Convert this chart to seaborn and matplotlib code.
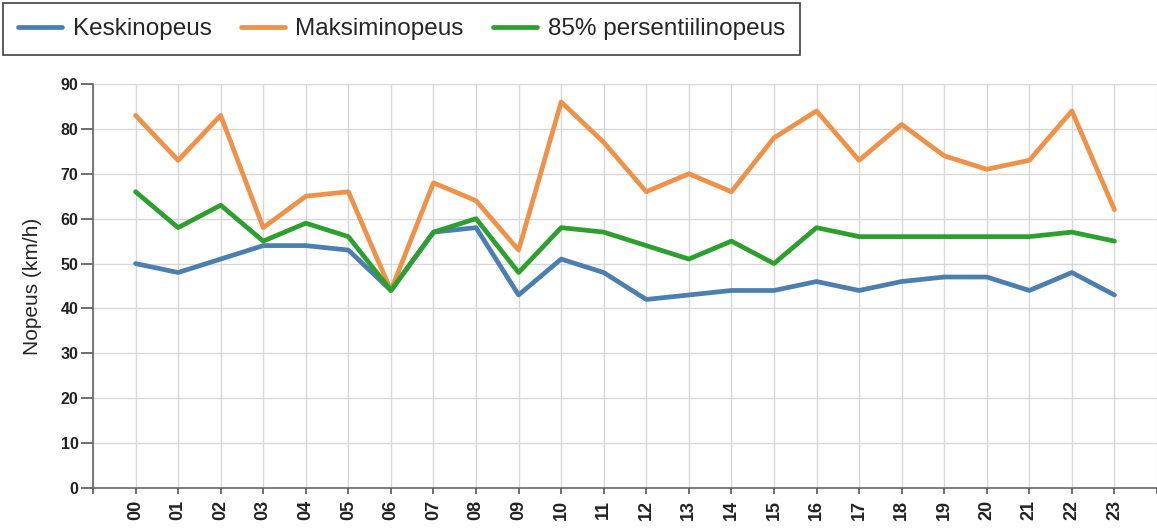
import matplotlib
matplotlib.use('Agg')
import matplotlib.pyplot as plt
import seaborn as sns
import pandas as pd

# tunnit ja nopeudet
tunnit = ['00', '01', '02', '03', '04', '05', '06', '07', '08', '09', '10', '11',
          '12', '13', '14', '15', '16', '17', '18', '19', '20', '21', '22', '23']
keski = [50, 48, 51, 54, 54, 53, 44, 57, 58, 43, 51, 48,
         42, 43, 44, 44, 46, 44, 46, 47, 47, 44, 48, 43]
maksimi = [83, 73, 83, 58, 65, 66, 44, 68, 64, 53, 86, 77,
           66, 70, 66, 78, 84, 73, 81, 74, 71, 73, 84, 62]
persentiili = [66, 58, 63, 55, 59, 56, 44, 57, 60, 48, 58, 57,
               54, 51, 55, 50, 58, 56, 56, 56, 56, 56, 57, 55]
sarjat = ['Keskinopeus', 'Maksiminopeus', '85% persentiilinopeus']
varit = ['#4a7fb0', '#ef9147', '#2ca02c']

rows = []
for nimi, arvot in zip(sarjat, [keski, maksimi, persentiili]):
    for i, v in enumerate(arvot):
        rows.append({'tunti': i, 'nopeus': v, 'sarja': nimi})
df = pd.DataFrame(rows)

sns.set_style('white')
plt.rcParams['font.family'] = ['Liberation Sans', 'DejaVu Sans']

fig = plt.figure(figsize=(11.57, 5.28), dpi=100)
ax = fig.add_axes([93 / 1157, 1 - 488 / 528, 1 - 93 / 1157, (488 - 84) / 528])

sns.lineplot(data=df, x='tunti', y='nopeus', hue='sarja', hue_order=sarjat,
             palette=varit, linewidth=3.4, ax=ax, legend=False, zorder=3)

ax.set_xlim(-1, 24)
ax.set_ylim(0, 90)
ax.set_xticks(range(-1, 25))
ax.set_xticklabels([''] + tunnit + [''], rotation=90, fontsize=13, fontweight='bold',
                   color='#222222')
ax.set_yticks(range(0, 91, 10))
ax.set_yticklabels([str(v) for v in range(0, 91, 10)], fontsize=11.5, fontweight='bold',
                   color='#222222')
ax.tick_params(axis='x', bottom=True, length=4.5, width=1.2, color='#555555', pad=4)
ax.tick_params(axis='y', left=True, length=8.5, width=1.2, color='#555555', pad=2)
ax.grid(True, color='#d8d8d8', linewidth=1, zorder=0)
ax.set_axisbelow(True)

for s in ['top', 'right']:
    ax.spines[s].set_visible(False)
for s in ['left', 'bottom']:
    ax.spines[s].set_color('#666666')
    ax.spines[s].set_linewidth(1.2)

ax.set_xlabel('')
ax.set_ylabel('Nopeus (km/h)', fontsize=15, labelpad=13)

handles = [plt.Line2D([], [], color=c, linewidth=3.4) for c in varit]
leg = fig.legend(handles, sarjat, loc='upper left', bbox_to_anchor=(3 / 1157, 1 - 3 / 528),
                 ncol=3, fontsize=17.5, frameon=True, fancybox=False,
                 handlelength=1.8, handletextpad=0.45, columnspacing=1.2,
                 borderpad=0.62, borderaxespad=0)
leg.get_frame().set_edgecolor('#111111')
leg.get_frame().set_linewidth(1.2)

fig.savefig('out.png', dpi=100)
